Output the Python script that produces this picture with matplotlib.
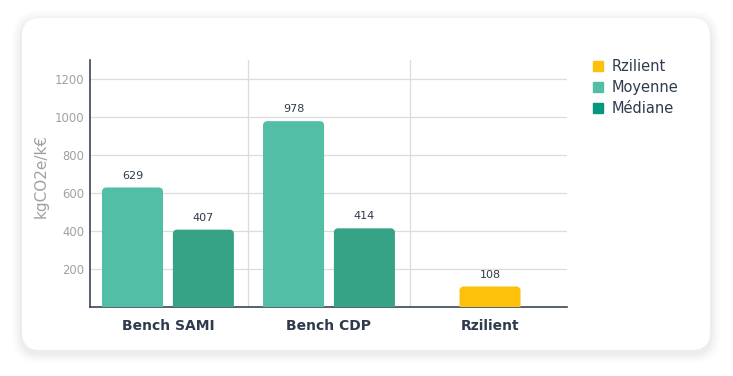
import numpy as np
import matplotlib
matplotlib.use("Agg")
from matplotlib import pyplot as plt
from matplotlib.patches import FancyBboxPatch, PathPatch
from matplotlib.path import Path
from matplotlib.lines import Line2D

plt.rcParams['font.family'] = ['DejaVu Sans']

# data
categories = ['Bench SAMI', 'Bench CDP', 'Rzilient']
moyenne = [629, 978, None]
mediane = [407, 414, None]
rzilient = [None, None, 108]
series_names = ['Rzilient', 'Moyenne', 'Médiane']
yticks = [200, 400, 600, 800, 1000, 1200]

c_yellow = '#FDC00B'
c_moy = '#52BEA6'
c_med = '#36A386'
c_med_leg = '#03977F'
dark = '#2F3B4C'
grey = '#A0A0A0'

fig = plt.figure(figsize=(7.33, 3.76), dpi=100)
fig.patch.set_facecolor('white')

# card with soft shadow
for i, a in enumerate([0.012, 0.016, 0.02, 0.025]):
    pad = (4 - i) * 2.5
    fig.patches.append(FancyBboxPatch((22 - pad, 26 - pad - 3), 688 + 2 * pad, 332 + 2 * pad,
                                      boxstyle='round,pad=0,rounding_size=%d' % (18 + pad),
                                      transform=None, facecolor='black', alpha=a,
                                      edgecolor='none', zorder=0))
fig.patches.append(FancyBboxPatch((22, 26), 688, 332, boxstyle='round,pad=0,rounding_size=18',
                                  transform=None, facecolor='white', edgecolor='none', zorder=1))

ax = fig.add_axes([90 / 733, 69 / 376, 477 / 733, 247 / 376])
ax.set_facecolor('none')
ax.set_zorder(2)

xlo, xhi = -0.484, 2.478
ylo, yhi = 0, 1300
px_x = 477 / (xhi - xlo)
px_y = 247 / (yhi - ylo)

x = np.arange(len(categories))
w = 0.379
off = 0.22
r_px = 4


def top_rounded_bar(x0, x1, h, color):
    rx = r_px / px_x
    ry = min(r_px / px_y, h / 2)
    k = 0.5523
    verts = [(x0, 0), (x0, h - ry),
             (x0, h - ry + k * ry), (x0 + rx - k * rx, h), (x0 + rx, h),
             (x1 - rx, h),
             (x1 - rx + k * rx, h), (x1, h - ry + k * ry), (x1, h - ry),
             (x1, 0), (x0, 0)]
    codes = [Path.MOVETO, Path.LINETO,
             Path.CURVE4, Path.CURVE4, Path.CURVE4,
             Path.LINETO,
             Path.CURVE4, Path.CURVE4, Path.CURVE4,
             Path.LINETO, Path.CLOSEPOLY]
    ax.add_patch(PathPatch(Path(verts, codes), facecolor=color, edgecolor='none', zorder=3))


def draw(vals, xs, color):
    for xi, v in zip(xs, vals):
        if v is None:
            continue
        top_rounded_bar(xi - w / 2, xi + w / 2, v, color)
        ax.annotate(str(v), (xi, v), xytext=(0, 5), textcoords='offset points',
                    ha='center', va='bottom', fontsize=8, color=dark)


draw(moyenne, x - off, c_moy)
draw(mediane, x + off, c_med)
draw(rzilient, x, c_yellow)

ax.set_xlim(xlo, xhi)
ax.set_ylim(ylo, yhi)
ax.set_yticks(yticks)
ax.set_yticklabels([str(t) for t in yticks], fontsize=8.4, color=grey)
ax.set_xticks(x)
ax.set_xticklabels(categories, fontsize=10, fontweight='bold', color=dark)
ax.tick_params(length=0)
ax.tick_params(axis='x', pad=9)
ax.tick_params(axis='y', pad=4)
ax.grid(axis='y', color='#DCDCDC', linewidth=0.9, zorder=0)
for b in [0.5, 1.5]:
    ax.axvline(b, color='#DCDCDC', linewidth=0.9, zorder=0)
for s in ['top', 'right']:
    ax.spines[s].set_visible(False)
for s in ['left', 'bottom']:
    ax.spines[s].set_color('#3A4656')
    ax.spines[s].set_linewidth(1.2)
ax.set_ylabel('kgCO2e/k€', fontsize=11, color=grey)
ax.yaxis.set_label_coords(-41 / 477, 0.53)

handles = [Line2D([], [], marker='s', linestyle='none', markersize=7.5, color=c)
           for c in [c_yellow, c_moy, c_med_leg]]
fig.legend(handles, series_names, loc='upper left', bbox_to_anchor=(576 / 733, 1 - 46 / 376),
           frameon=False, fontsize=10.5, labelcolor=dark, handletextpad=0.35,
           labelspacing=0.42, handlelength=1.2)

fig.savefig('out.png', dpi=100)
